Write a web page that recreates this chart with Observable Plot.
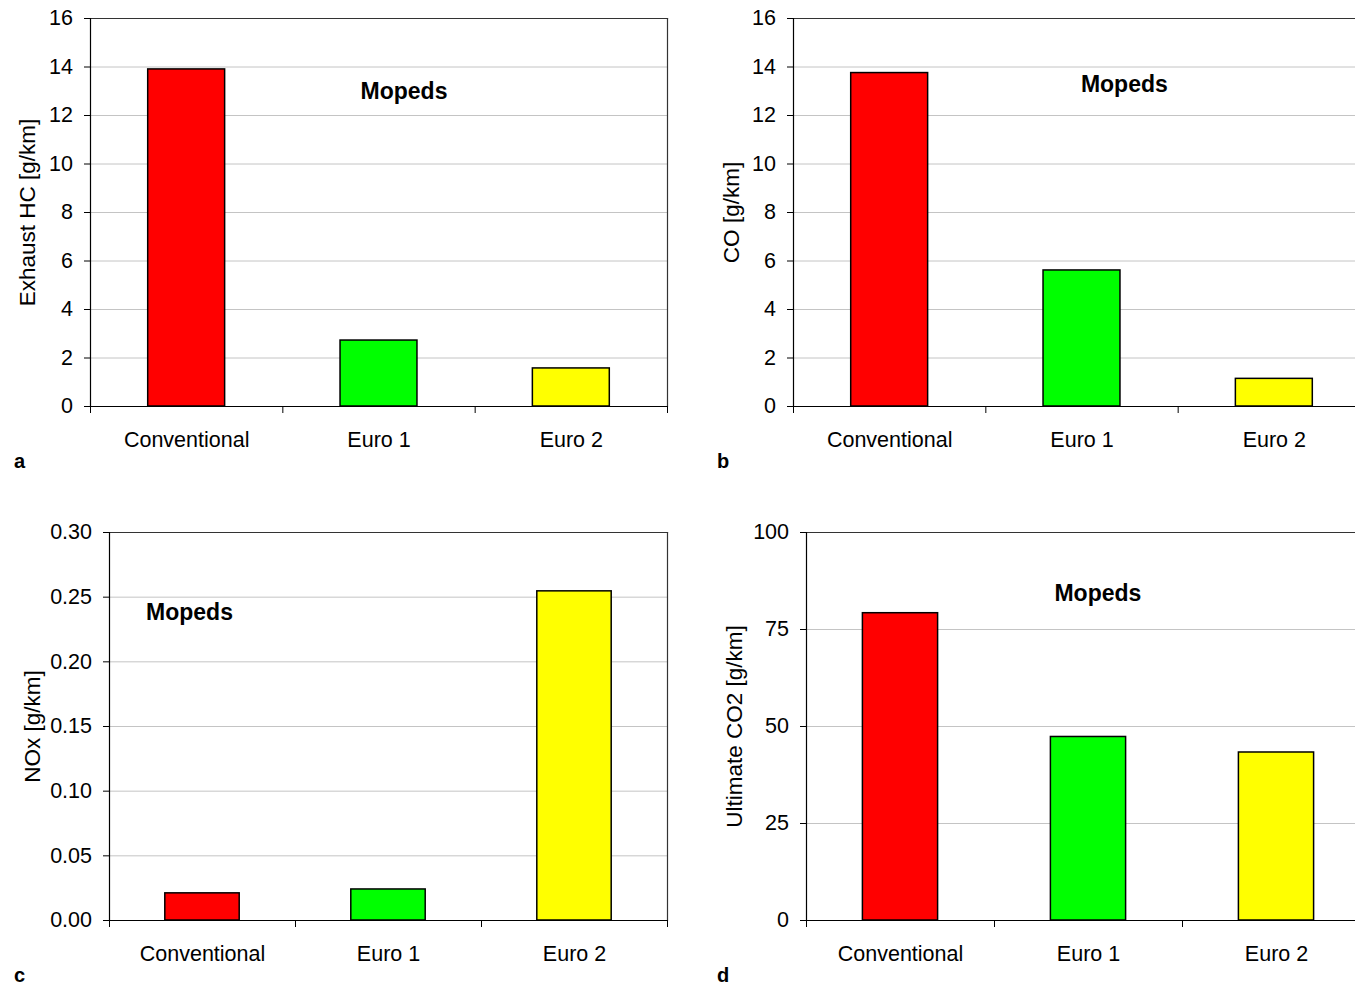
<!DOCTYPE html>
<html>
<head>
<meta charset="utf-8">
<script src="https://cdn.jsdelivr.net/npm/d3@7"></script>
<script src="https://cdn.jsdelivr.net/npm/@observablehq/plot@0.6"></script>
<style>
  html, body { margin: 0; padding: 0; background: #fff; overflow: hidden; width: 1355px; height: 986px; }
  #root { position: relative; width: 1355px; height: 986px; overflow: hidden; font-family: "Liberation Sans", Arial, sans-serif; }
  .panel { position: absolute; }
  .letter { position: absolute; font-weight: bold; font-size: 20px; line-height: 1; }
</style>
</head>
<body>
<div id="root"></div>
<script>
// ---- Data ----
const categories = ["Conventional", "Euro 1", "Euro 2"];
const barColors = ["#ff0000", "#00ff00", "#ffff00"];

const hcValues  = [13.9, 2.72, 1.57];
const coValues  = [13.75, 5.61, 1.14];
const noxValues = [0.021, 0.024, 0.2545];
const co2Values = [79.2, 47.3, 43.3];

const hcTicks  = [0, 2, 4, 6, 8, 10, 12, 14, 16];
const coTicks  = [0, 2, 4, 6, 8, 10, 12, 14, 16];
const noxTicks = [0, 0.05, 0.10, 0.15, 0.20, 0.25, 0.30];
const co2Ticks = [0, 25, 50, 75, 100];

const yLabels = ["Exhaust HC [g/km]", "CO [g/km]", "NOx [g/km]", "Ultimate CO2 [g/km]"];
const panelLetters = ["a", "b", "c", "d"];
const annotationText = "Mopeds";
// annotation positions in data units [x (category index space), y]
const hcNote  = [1.63, 13.0];
const coNote  = [1.72, 13.28];
const noxNote = [0.43, 0.238];
const co2Note = [1.55, 84.3];

// ---- Drawing ----
const root = document.getElementById("root");
const FONT = "'Liberation Sans', Arial, sans-serif";

function panel(cfg) {
  const plotH = 388;
  const mTop = 18, mBottom = 50, mRight = 12;
  const step = cfg.plotWidth / categories.length;
  const inset = step * 0.3;
  const data = categories.map((c, i) => ({ cat: c, i, v: cfg.values[i], color: barColors[i] }));
  const yMax = cfg.ticks[cfg.ticks.length - 1];
  const chart = Plot.plot({
    width: cfg.marginLeft + cfg.plotWidth + mRight,
    height: mTop + plotH + mBottom,
    marginLeft: cfg.marginLeft,
    marginTop: mTop,
    marginRight: mRight,
    marginBottom: mBottom,
    x: { domain: [0, categories.length], axis: null },
    y: { domain: [0, yMax], axis: null },
    style: { fontFamily: FONT, background: "transparent", color: "#000", overflow: "visible" },
    marks: [
      Plot.ruleY(cfg.ticks.filter(t => t > 0 && t < yMax), { stroke: "#c4c4c4", strokeWidth: 1 }),
      Plot.frame({ anchor: "top", stroke: "#333", strokeWidth: 1.2 }),
      Plot.frame({ anchor: "right", stroke: "#333", strokeWidth: 1.2 }),
      Plot.rectY(data, {
        x1: d => d.i, x2: d => d.i + 1, y: "v", fill: "color",
        stroke: "#000", strokeWidth: 1.5, insetLeft: inset, insetRight: inset
      }),
      Plot.frame({ anchor: "left", stroke: "#000", strokeWidth: 1.2 }),
      Plot.ruleY([0], { stroke: "#000", strokeWidth: 1.2 }),
      Plot.axisY({ ticks: cfg.ticks, tickSize: 6, tickPadding: 11.5, tickFormat: cfg.tickFormat,
                   fontSize: 21.5, label: null, stroke: "#000" }),
      Plot.axisX({ ticks: d3.range(categories.length + 1), tickSize: 7, tickFormat: () => "",
                   label: null, stroke: "#000" }),
      Plot.axisX({ ticks: categories.map((c, i) => i + 0.5), tickSize: 0, tickPadding: 25,
                   tickFormat: t => categories[Math.floor(t)], fontSize: 21.5, label: null }),
      Plot.text([cfg.yLabel], { frameAnchor: "left", rotate: -90, dx: cfg.labelDx, textAnchor: "middle",
                                fontSize: 22.5, text: d => d }),
      Plot.text([cfg.note], { x: d => d[0], y: d => d[1], text: () => annotationText,
                              fontSize: 23, fontWeight: "bold" })
    ]
  });
  chart.classList.add("panel");
  chart.style.left = cfg.left + "px";
  chart.style.top = cfg.top + "px";
  root.appendChild(chart);

  const L = document.createElement("div");
  L.className = "letter";
  L.textContent = cfg.letter;
  L.style.left = cfg.letterPos[0] + "px";
  L.style.top = cfg.letterPos[1] + "px";
  root.appendChild(L);
}

const intFmt = d3.format("d");
panel({ values: hcValues, ticks: hcTicks, tickFormat: intFmt, yLabel: yLabels[0], note: hcNote,
        left: 0, top: 0, marginLeft: 90, plotWidth: 577, labelDx: -63, letter: panelLetters[0], letterPos: [14, 451] });
panel({ values: coValues, ticks: coTicks, tickFormat: intFmt, yLabel: yLabels[1], note: coNote,
        left: 703, top: 0, marginLeft: 90, plotWidth: 577, labelDx: -62, letter: panelLetters[1], letterPos: [717, 451] });
panel({ values: noxValues, ticks: noxTicks, tickFormat: d3.format(".2f"), yLabel: yLabels[2], note: noxNote,
        left: 0, top: 514, marginLeft: 109, plotWidth: 558, labelDx: -77, letter: panelLetters[2], letterPos: [14, 965] });
panel({ values: co2Values, ticks: co2Ticks, tickFormat: intFmt, yLabel: yLabels[3], note: co2Note,
        left: 716, top: 514, marginLeft: 90, plotWidth: 564, labelDx: -72, letter: panelLetters[3], letterPos: [717, 965] });
</script>
</body>
</html>
